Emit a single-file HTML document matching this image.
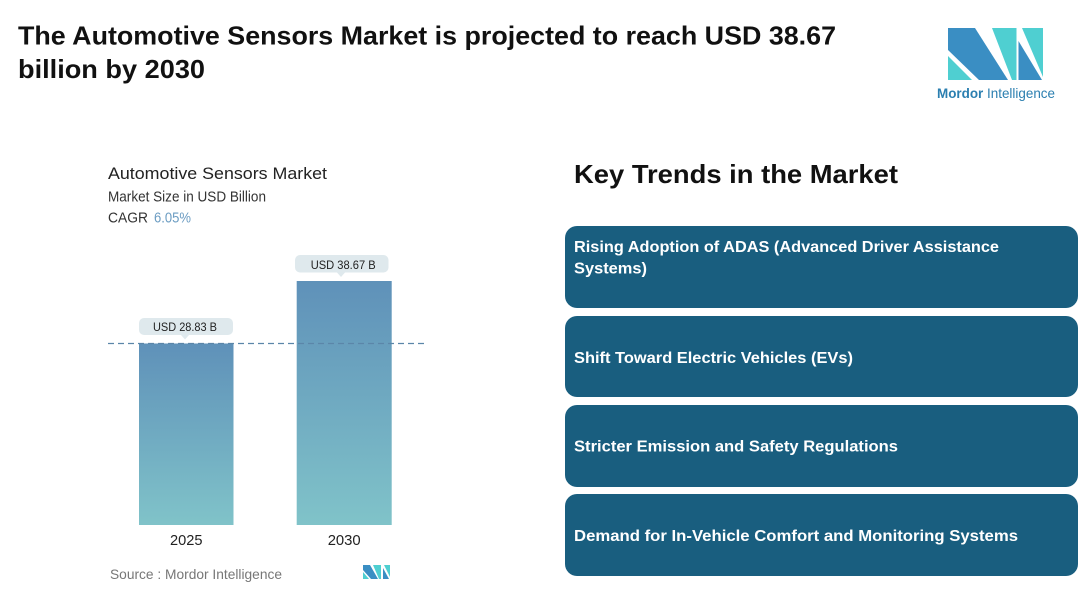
<!DOCTYPE html>
<html>
<head>
<meta charset="utf-8">
<style>
html,body{margin:0;padding:0;background:#fff;}
svg{display:block;}
text{font-family:"Liberation Sans",sans-serif;}
</style>
</head>
<body>
<svg width="1080" height="590" viewBox="0 0 1080 590" xmlns="http://www.w3.org/2000/svg">
<defs>
<linearGradient id="bar" x1="0" y1="0" x2="0" y2="1">
<stop offset="0" stop-color="#5f91b9"/>
<stop offset="1" stop-color="#80c3c9"/>
</linearGradient>
</defs>
<rect width="1080" height="590" fill="#fff"/>

<!-- Main title -->
<text x="18" y="44.5" font-size="26" font-weight="bold" fill="#111" textLength="818" lengthAdjust="spacingAndGlyphs">The Automotive Sensors Market is projected to reach USD 38.67</text>
<text x="18" y="78" font-size="26" font-weight="bold" fill="#111" textLength="187" lengthAdjust="spacingAndGlyphs">billion by 2030</text>

<!-- Logo -->
<g>
<polygon points="948,28 975,28 1008,80 979,80 948,50" fill="#3a8ec3"/>
<polygon points="948,56 948,80 972,80" fill="#4fcfd1"/>
<polygon points="992,28 1016.5,28 1016.5,80 1012,80" fill="#4fcfd1"/>
<polygon points="1018.5,41 1018.5,80 1042,80" fill="#3a8ec3"/>
<polygon points="1022,28 1043,28 1043,77" fill="#4fcfd1"/>
<text x="937" y="98" font-size="14" fill="#2b7fb0" textLength="118" lengthAdjust="spacingAndGlyphs"><tspan font-weight="bold">Mordor</tspan> Intelligence</text>
</g>

<!-- Chart header -->
<text x="108" y="179" font-size="17" fill="#222" textLength="219" lengthAdjust="spacingAndGlyphs">Automotive Sensors Market</text>
<text x="108" y="201.5" font-size="14.5" fill="#333" textLength="158" lengthAdjust="spacingAndGlyphs">Market Size in USD Billion</text>
<text x="108" y="222.5" font-size="14.5" fill="#333" textLength="40" lengthAdjust="spacingAndGlyphs">CAGR</text>
<text x="154" y="222.5" font-size="14.5" fill="#6b9cc2" textLength="37" lengthAdjust="spacingAndGlyphs">6.05%</text>

<!-- Bars -->
<rect x="139" y="343.5" width="94.5" height="181.5" fill="url(#bar)"/>
<rect x="296.7" y="281" width="95" height="244" fill="url(#bar)"/>

<!-- Dashed line -->
<line x1="108" y1="343.5" x2="426" y2="343.5" stroke="#5b86a9" stroke-width="1.2" stroke-dasharray="6,4"/>

<!-- Value labels -->
<rect x="139" y="318" width="94" height="17" rx="5" fill="#dfe9ed"/>
<polygon points="181,335 189,335 185,339.5" fill="#dfe9ed"/>
<text x="153" y="331" font-size="12" fill="#222" textLength="64" lengthAdjust="spacingAndGlyphs">USD 28.83 B</text>

<rect x="295" y="255" width="93.5" height="17.5" rx="5" fill="#dfe9ed"/>
<polygon points="337,272.5 345,272.5 341,277" fill="#dfe9ed"/>
<text x="310.7" y="269" font-size="12" fill="#222" textLength="65" lengthAdjust="spacingAndGlyphs">USD 38.67 B</text>

<!-- Years -->
<text x="170" y="545" font-size="15" fill="#222" textLength="32.5" lengthAdjust="spacingAndGlyphs">2025</text>
<text x="327.7" y="545" font-size="15" fill="#222" textLength="33" lengthAdjust="spacingAndGlyphs">2030</text>

<!-- Source -->
<text x="110" y="579" font-size="14" fill="#777" textLength="172" lengthAdjust="spacingAndGlyphs">Source :  Mordor Intelligence</text>
<g>
<polygon points="363,565 370,565 378,579 371,579 363,570" fill="#3a8ec3"/>
<polygon points="363,572 363,579 369,579" fill="#4fcfd1"/>
<polygon points="373,565 381,565 381,579 379,579" fill="#4fcfd1"/>
<polygon points="383,568 383,579 389,579" fill="#3a8ec3"/>
<polygon points="384,565 390,565 390,577" fill="#4fcfd1"/>
</g>

<!-- Key trends -->
<text x="574" y="183" font-size="26" font-weight="bold" fill="#111" textLength="324" lengthAdjust="spacingAndGlyphs">Key Trends in the Market</text>

<rect x="565" y="226" width="513" height="82" rx="12" fill="#195e7f"/>
<text x="574" y="252" font-size="16" font-weight="bold" fill="#fff" textLength="425" lengthAdjust="spacingAndGlyphs">Rising Adoption of ADAS (Advanced Driver Assistance</text>
<text x="574" y="273.5" font-size="16" font-weight="bold" fill="#fff" textLength="73" lengthAdjust="spacingAndGlyphs">Systems)</text>

<rect x="565" y="316" width="513" height="81" rx="12" fill="#195e7f"/>
<text x="574" y="363" font-size="16" font-weight="bold" fill="#fff" textLength="279" lengthAdjust="spacingAndGlyphs">Shift Toward Electric Vehicles (EVs)</text>

<rect x="565" y="405" width="513" height="82" rx="12" fill="#195e7f"/>
<text x="574" y="451.5" font-size="16" font-weight="bold" fill="#fff" textLength="324" lengthAdjust="spacingAndGlyphs">Stricter Emission and Safety Regulations</text>

<rect x="565" y="494" width="513" height="82" rx="12" fill="#195e7f"/>
<text x="574" y="541" font-size="16" font-weight="bold" fill="#fff" textLength="444" lengthAdjust="spacingAndGlyphs">Demand for In-Vehicle Comfort and Monitoring Systems</text>
</svg>
</body>
</html>
